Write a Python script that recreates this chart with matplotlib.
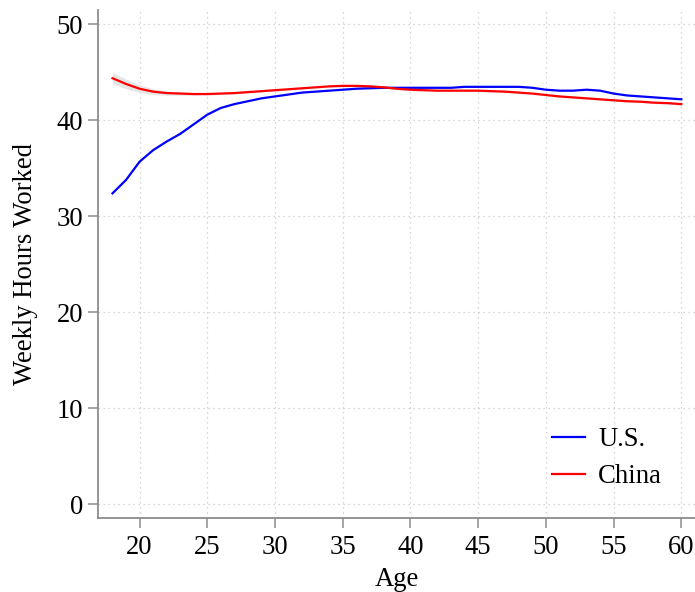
import matplotlib
matplotlib.use("Agg")
import matplotlib.pyplot as plt
import numpy as np

ages = list(range(18, 61))
us_hours = [32.4, 33.8, 35.7, 36.9, 37.8, 38.6, 39.6, 40.6, 41.3, 41.7,
            42.0, 42.3, 42.5, 42.7, 42.9, 43.0, 43.1, 43.2, 43.3, 43.35,
            43.4, 43.4, 43.4, 43.4, 43.4, 43.4, 43.5, 43.5, 43.5, 43.5,
            43.5, 43.4, 43.2, 43.1, 43.1, 43.2, 43.1, 42.8, 42.6, 42.5,
            42.4, 42.3, 42.2]
china_hours = [44.4, 43.8, 43.3, 43.0, 42.85, 42.8, 42.75, 42.75, 42.8, 42.85,
               42.95, 43.05, 43.15, 43.25, 43.35, 43.45, 43.55, 43.6, 43.6, 43.55,
               43.45, 43.3, 43.2, 43.15, 43.1, 43.1, 43.1, 43.1, 43.05, 43.0,
               42.9, 42.8, 42.65, 42.5, 42.4, 42.3, 42.2, 42.1, 42.0, 41.95,
               41.85, 41.8, 41.7]
china_ci_half = [0.6, 0.5, 0.4, 0.3, 0.22, 0.17, 0.13, 0.11, 0.1, 0.1,
                 0.1, 0.1, 0.1, 0.1, 0.1, 0.1, 0.1, 0.1, 0.1, 0.1,
                 0.1, 0.1, 0.1, 0.1, 0.1, 0.1, 0.1, 0.1, 0.1, 0.1,
                 0.1, 0.1, 0.1, 0.1, 0.1, 0.1, 0.1, 0.1, 0.1, 0.1,
                 0.1, 0.1, 0.12]
x_ticks = [20, 25, 30, 35, 40, 45, 50, 55, 60]
y_ticks = [0, 10, 20, 30, 40, 50]

plt.rcParams['font.family'] = ['Liberation Serif', 'DejaVu Serif']
FS = 19.2

fig = plt.figure(figsize=(6.95, 5.92), dpi=100)
ax = fig.add_axes([0.1414, 0.1245, 0.8586, 0.8585])

ch = np.array(china_hours)
ci = np.array(china_ci_half)
ax.fill_between(ages, ch - ci, ch + ci, color='#e6e6e6', lw=0, zorder=2)
ax.plot(ages, us_hours, color='#0000ff', lw=1.6, label='U.S.', zorder=3)
ax.plot(ages, china_hours, color='#ff0000', lw=1.6, label='China', zorder=3)

ax.set_xlim(16.95, 61.01)
ax.set_ylim(-1.46, 51.5)
ax.set_xticks(x_ticks)
ax.set_yticks(y_ticks)
ax.grid(True, color='#c8c8c8', linestyle=(0, (1, 3)), linewidth=0.9)
ax.set_axisbelow(True)

for s in ['top', 'right']:
    ax.spines[s].set_visible(False)
for s in ['left', 'bottom']:
    ax.spines[s].set_color('#8c8c8c')
    ax.spines[s].set_linewidth(1.3)
ax.tick_params(axis='both', colors='#8c8c8c', length=7, width=1.1,
               labelsize=FS, labelcolor='black')
ax.tick_params(axis='x', pad=5)
ax.tick_params(axis='y', pad=4)

ax.set_xlabel('Age', fontsize=FS, labelpad=5)
ax.set_ylabel('Weekly Hours Worked', fontsize=FS, labelpad=13)

leg = ax.legend(loc='lower right', bbox_to_anchor=(0.985, 0.01), frameon=False,
                fontsize=FS, handlelength=1.25, handletextpad=0.5,
                labelspacing=0.45)

fig.savefig('out.png', dpi=100)
